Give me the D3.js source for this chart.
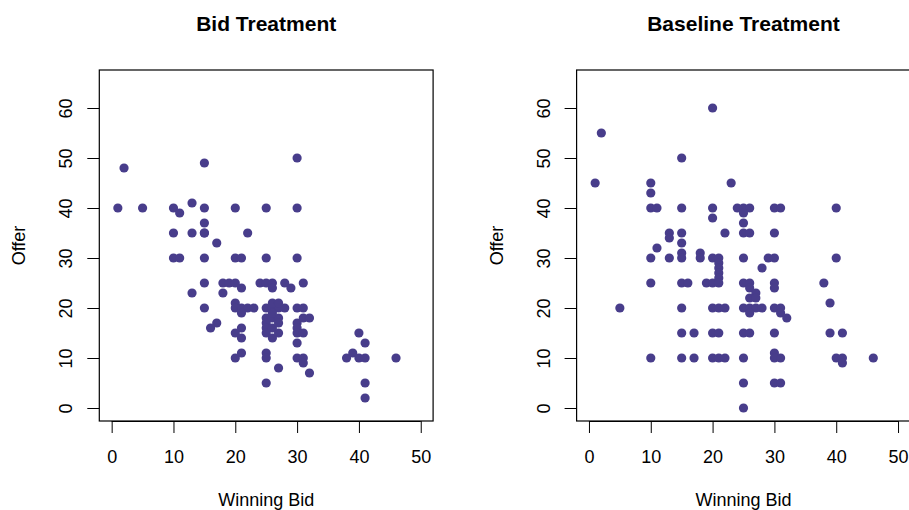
<!DOCTYPE html>
<html><head><meta charset="utf-8">
<script src="https://cdn.jsdelivr.net/npm/d3@7"></script>
<style>
body{margin:0;background:#fff;}
svg{display:block;font-family:"Liberation Sans",Arial,Helvetica,sans-serif;}
</style></head><body>
<svg id="c" width="909" height="510"></svg>
<script>
// ---- data ----
const panelTitles = ["Bid Treatment", "Baseline Treatment"];
const xLabel = "Winning Bid";
const yLabel = "Offer";
const xTicks = [0, 10, 20, 30, 40, 50];
const yTicks = [0, 10, 20, 30, 40, 50, 60];

const bidWinning = [1,2,5,10,11,13,15,15,15,10,13,15,15,17,22,10,11,15,20,21,25,30,15,18,19,20,21,24,25,26,26,28,29,31,13,18,15,20,20,21,22,23,21,25,26,27,28,26,27,30,31,17,16,20,21,21,25,25,25,25,26,26,26,27,27,27,26,30,30,30,31,30,31,32,20,21,25,25,25,27,30,31,31,32,20,25,30,30,38,39,40,41,40,41,46,41,41];
const bidOffer   = [40,48,40,40,39,41,40,37,49,35,35,35,35,33,35,30,30,30,30,30,30,30,25,25,25,25,24,25,25,25,24,25,24,25,23,23,20,21,20,20,20,20,19,20,20,20,20,21,21,20,20,17,16,15,16,14,18,17,16,15,18,16,14,18,17,15,19,17,16,15,15,13,18,18,10,11,11,10,5,8,10,10,9,7,40,40,40,50,10,11,10,10,15,13,10,5,2];

const baseWinning = [1,2,5,10,10,10,11,10,10,10,11,13,13,13,15,15,15,15,15,15,15,16,15,15,17,15,17,18,18,20,20,20,20,21,21,21,21,21,19,20,21,20,21,22,20,21,20,21,22,22,23,24,25,26,25,25,25,26,25,25,26,26,27,26,27,25,26,27,28,26,25,26,25,25,25,28,29,30,30,30,30,31,30,30,31,31,32,30,30,30,31,30,31,38,39,39,41,40,40,40,41,41,46];
const baseOffer   = [45,55,20,45,43,40,40,30,25,10,32,35,34,30,50,40,35,33,31,30,25,25,20,15,15,10,10,31,30,60,40,38,30,30,29,28,27,26,25,25,25,20,20,20,15,15,10,10,10,35,45,40,40,40,39,37,35,35,30,25,25,24,23,22,22,20,20,20,20,19,15,15,10,5,0,28,30,30,25,24,40,40,35,20,20,19,18,15,11,10,10,5,5,25,21,15,15,40,30,10,10,9,10];

const panels = [
  {title: panelTitles[0], xs: bidWinning, ys: bidOffer, left: 99.3},
  {title: panelTitles[1], xs: baseWinning, ys: baseOffer, left: 576.6}
];

const svg = d3.select("#c");
const PW = 333.8, PT = 70, PB = 421;
const col = "#483D8B";
const fs = 18;

panels.forEach(p => {
  const x = d3.scaleLinear().domain([-2, 52]).range([p.left, p.left + PW]);
  const y = d3.scaleLinear().domain([-2.6, 67.6]).range([PB, PT]);
  const g = svg.append("g");

  // points
  g.selectAll("circle").data(p.xs.map((v, i) => [v, p.ys[i]])).enter()
    .append("circle")
    .attr("cx", d => x(d[0])).attr("cy", d => y(d[1]))
    .attr("r", 4.6).attr("fill", col);

  // x axis
  const ax = g.append("g").attr("transform", `translate(0,${PB})`)
    .call(d3.axisBottom(x).tickValues(xTicks).tickSize(12).tickPadding(17).tickFormat(d3.format("d")));
  ax.select(".domain").remove();
  ax.selectAll("line").attr("stroke", "#000");
  ax.selectAll("text").attr("font-size", fs).attr("fill", "#000").style("font-family", "inherit");
  ax.append("line").attr("x1", x(0)).attr("x2", x(50)).attr("y1", 0.5).attr("y2", 0.5).attr("stroke", "#000");

  // y axis
  const ay = g.append("g").attr("transform", `translate(${p.left},0)`)
    .call(d3.axisLeft(y).tickValues(yTicks).tickSize(12).tickFormat(d3.format("d")));
  ay.select(".domain").remove();
  ay.selectAll("line").attr("stroke", "#000");
  ay.selectAll("text")
    .attr("x", null).attr("dy", null)
    .attr("transform", "translate(-27,0) rotate(-90)")
    .attr("text-anchor", "middle")
    .attr("font-size", fs).attr("fill", "#000").style("font-family", "inherit");

  // box
  g.append("rect").attr("x", p.left).attr("y", PT).attr("width", PW).attr("height", PB - PT)
    .attr("fill", "none").attr("stroke", "#000").attr("stroke-width", 1.2);

  // title
  g.append("text").attr("x", p.left + PW / 2).attr("y", 31).attr("text-anchor", "middle")
    .attr("font-size", 21).attr("font-weight", "bold").text(p.title);

  // axis labels
  g.append("text").attr("x", p.left + PW / 2).attr("y", 506).attr("text-anchor", "middle")
    .attr("font-size", fs).text(xLabel);
  g.append("text").attr("transform", `translate(${p.left - 74},${(PT + PB) / 2}) rotate(-90)`)
    .attr("text-anchor", "middle").attr("font-size", fs).text(yLabel);
});
</script>
</body></html>
